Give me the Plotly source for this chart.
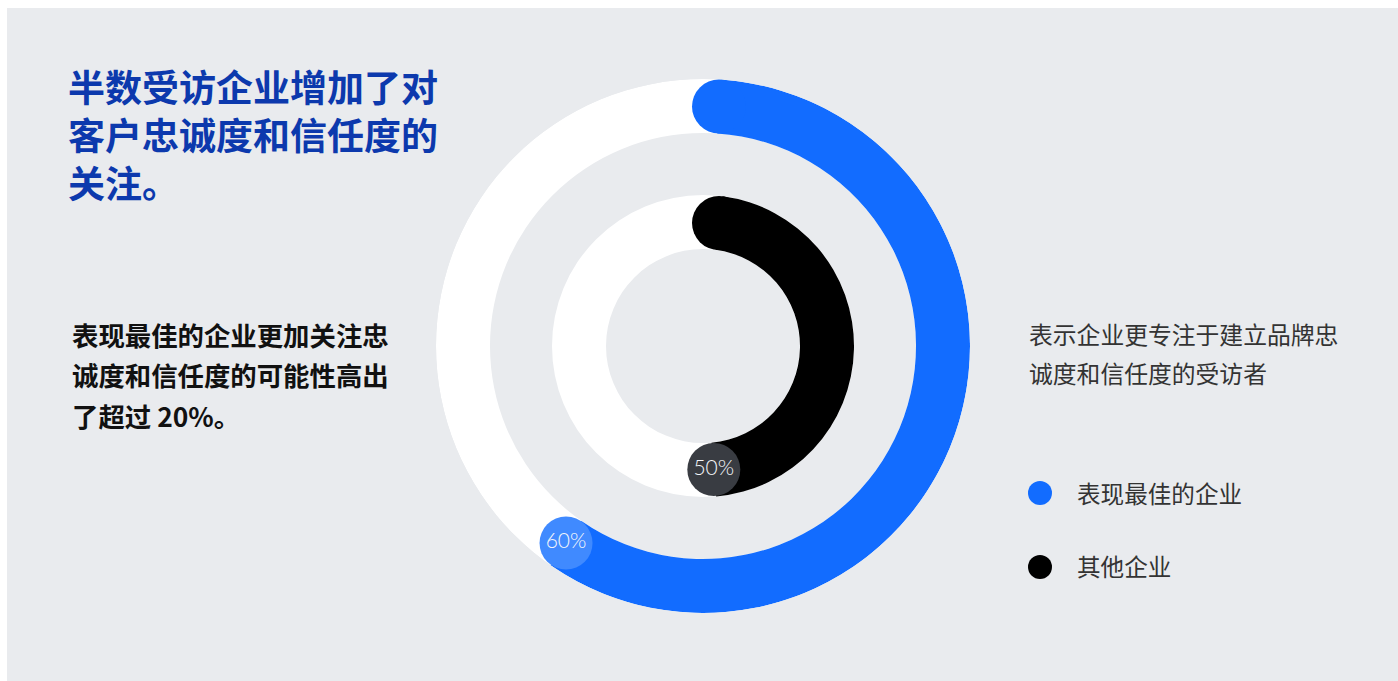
import math
import plotly.graph_objects as go

# --- data -------------------------------------------------------------
groups = ["表现最佳的企业", "其他企业"]
shares = [60, 50]                      # % of respondents focusing more on loyalty & trust
share_labels = [f"{v}%" for v in shares]

title_lines = ["半数受访企业增加了对", "客户忠诚度和信任度的", "关注。"]
note_lines = ["表现最佳的企业更加关注忠", "诚度和信任度的可能性高出", "了超过 20%。"]
legend_title_lines = ["表示企业更专注于建立品牌忠", "诚度和信任度的受访者"]

# --- style ------------------------------------------------------------
W, H = 1398, 681
CX, CY = 703, 346                      # ring centre in px
R_MAX = 267                            # radial range == px radius of the polar area
ring_bounds = [(213, 267), (97, 151)]  # (inner, outer) radius per ring
arc_colors = ["#126cff", "#000000"]
badge_colors = ["#408aff", "#393c42"]
track_color = "#ffffff"
panel_color = "#e9ebee"
start_offset_px = 16                   # start cap centre sits this far right of 12 o'clock
end_trim_deg = [1.2, 5.0]              # badge sits just short of the arc's nominal end
CJK = "Noto Sans CJK SC"

fig = go.Figure()

for i, (val, lab) in enumerate(zip(shares, share_labels)):
    r0, r1 = ring_bounds[i]
    rc = (r0 + r1) / 2
    thick = r1 - r0
    a0 = math.degrees(math.asin(start_offset_px / rc))
    a1 = val * 3.6 - end_trim_deg[i]

    # white track
    fig.add_trace(go.Barpolar(r=[thick], base=[r0], theta=[180], width=[360],
                              marker=dict(color=track_color, line=dict(width=0)),
                              hoverinfo="skip"))
    # coloured arc
    fig.add_trace(go.Barpolar(r=[thick], base=[r0], theta=[(a0 + a1) / 2], width=[a1 - a0],
                              marker=dict(color=arc_colors[i], line=dict(width=0)),
                              name=groups[i], hoverinfo="skip"))
    # rounded start cap
    fig.add_trace(go.Scatterpolar(r=[rc], theta=[a0], mode="markers",
                                  marker=dict(size=thick, color=arc_colors[i], line=dict(width=0)),
                                  hoverinfo="skip", cliponaxis=False))
    # value badge at the end of the arc
    fig.add_trace(go.Scatterpolar(r=[rc], theta=[a1], mode="markers+text", text=[lab],
                                  textposition="middle center",
                                  textfont=dict(family="Lato", size=21, color="#f4f6fa", weight=300),
                                  marker=dict(size=thick - 1, color=badge_colors[i], line=dict(width=0)),
                                  hoverinfo="skip", cliponaxis=False))

annotations = []


def add_lines(lines, x, y_centres, size, color, weight):
    for txt, y in zip(lines, y_centres):
        annotations.append(dict(text=txt, x=x / W, y=1 - y / H, xref="paper", yref="paper",
                                xanchor="left", yanchor="middle", showarrow=False,
                                font=dict(family=CJK, size=size, color=color, weight=weight)))


# headline as one multi-line block
annotations.append(dict(text="<br>".join(title_lines), x=66 / W, y=1 - 134 / H,
                        xref="paper", yref="paper", xanchor="left", yanchor="middle",
                        align="left", showarrow=False,
                        font=dict(family=CJK, size=37, color="#0c39ad", weight=700)))
add_lines(note_lines, 70, [334, 375, 415], 26.4, "#111111", 700)
add_lines(legend_title_lines, 1027, [333, 372], 23.8, "#333333", 400)
add_lines(groups, 1075, [493, 566], 23.6, "#333333", 400)

shapes = [dict(type="rect", xref="paper", yref="paper", x0=7 / W, x1=1, y0=0, y1=1 - 8 / H,
               fillcolor=panel_color, line=dict(width=0), layer="below")]
for i, c in enumerate(arc_colors):
    yc = [493, 567][i]
    shapes.append(dict(type="circle", xref="paper", yref="paper",
                       x0=(1040 - 12) / W, x1=(1040 + 12) / W,
                       y0=1 - (yc + 12) / H, y1=1 - (yc - 12) / H,
                       fillcolor=c, line=dict(width=0), layer="above"))

fig.update_layout(
    width=W, height=H, margin=dict(l=0, r=0, t=0, b=0),
    paper_bgcolor="#ffffff", plot_bgcolor="rgba(0,0,0,0)",
    showlegend=False,
    polar=dict(
        domain=dict(x=[(CX - R_MAX) / W, (CX + R_MAX) / W],
                    y=[1 - (CY + R_MAX) / H, 1 - (CY - R_MAX) / H]),
        bgcolor="rgba(0,0,0,0)",
        barmode="overlay", bargap=0,
        radialaxis=dict(range=[0, R_MAX], visible=False, showgrid=False),
        angularaxis=dict(direction="clockwise", rotation=90, visible=False, showgrid=False),
    ),
    annotations=annotations,
    shapes=shapes,
)

fig.write_html("out.html")
